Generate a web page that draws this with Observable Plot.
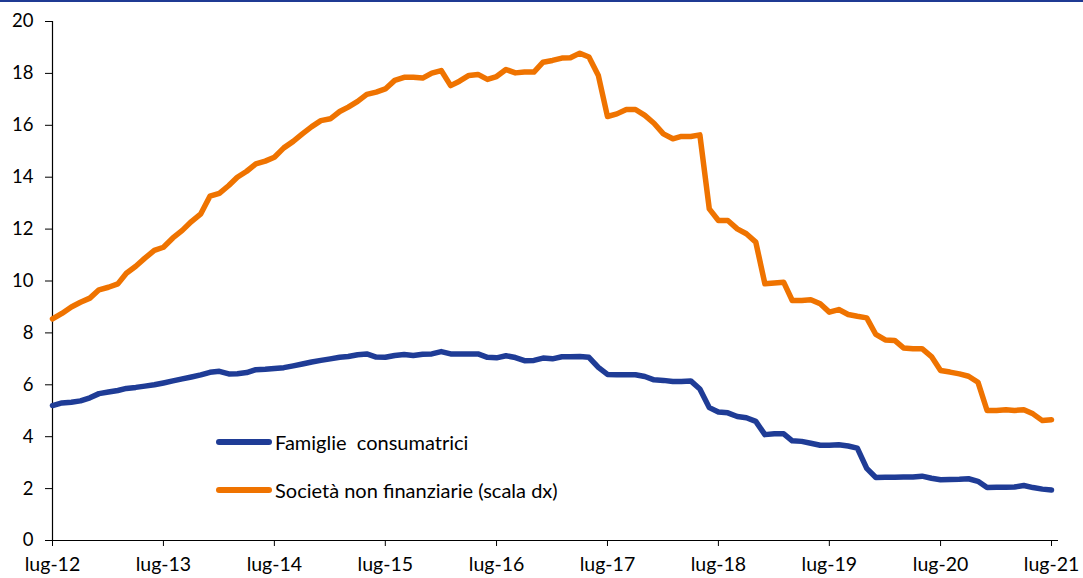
<!DOCTYPE html>
<html>
<head>
<meta charset="utf-8">
<script src="https://cdn.jsdelivr.net/npm/d3@7"></script>
<script src="https://cdn.jsdelivr.net/npm/@observablehq/plot@0.6"></script>
<style>
  body { margin: 0; background: #fff; font-family: Lato, "Open Sans", sans-serif; }
  #wrap { position: relative; width: 1083px; height: 578px; overflow: hidden; background: #fff; }
  #topline { position: absolute; left: 0; top: 0; width: 1083px; height: 2px; background: #1f3a93; }
  .leg { position: absolute; left: 216px; height: 24px; display: flex; align-items: center; font-size: 20px; color: #000; white-space: pre; }
  .sw { display: inline-block; width: 56px; height: 6px; border-radius: 3px; margin-right: 3px; }
</style>
</head>
<body>
<div id="wrap">
  <div id="chart"></div>
  <div id="topline"></div>
  <div id="legend"></div>
</div>
<script>
// Start month of series: July 2012 (monthly data to July 2021)
const startYear = 2012;
const startMonth = 6; // 0-based: July

const seriesNames = ["Famiglie  consumatrici", "Società non finanziarie (scala dx)"];
const seriesColors = ["#1f3c96", "#ef7300"];

const famiglie = [
  5.2, 5.3, 5.33, 5.38, 5.5, 5.66, 5.72, 5.78, 5.86, 5.9, 5.95, 6.0,
  6.07, 6.15, 6.23, 6.3, 6.38, 6.48, 6.52, 6.42, 6.43, 6.47, 6.58, 6.6,
  6.63, 6.66, 6.73, 6.8, 6.88, 6.94, 7.0, 7.06, 7.09, 7.16, 7.19, 7.07,
  7.06, 7.13, 7.17, 7.13, 7.18, 7.19, 7.28, 7.19, 7.19, 7.19, 7.19, 7.06,
  7.04, 7.12, 7.05, 6.93, 6.94, 7.03, 7.0, 7.08, 7.08, 7.09, 7.06, 6.67,
  6.4, 6.39, 6.39, 6.39, 6.32, 6.19, 6.17, 6.13, 6.13, 6.15, 5.84, 5.12,
  4.95, 4.92, 4.78, 4.73, 4.59, 4.08, 4.11, 4.11, 3.84, 3.82, 3.75, 3.67,
  3.67, 3.69, 3.64, 3.56, 2.78, 2.43, 2.44, 2.44, 2.45, 2.45, 2.48, 2.4,
  2.34, 2.35, 2.36, 2.38, 2.28, 2.04, 2.05, 2.05, 2.06, 2.12, 2.04, 1.98,
  1.95
];

const societa = [
  8.54, 8.75, 9.0, 9.18, 9.34, 9.66, 9.76, 9.89, 10.3, 10.57, 10.88, 11.18,
  11.3, 11.66, 11.95, 12.29, 12.59, 13.27, 13.38, 13.68, 14.0, 14.23, 14.51, 14.62,
  14.77, 15.13, 15.38, 15.67, 15.95, 16.18, 16.25, 16.53, 16.7, 16.92, 17.19, 17.28,
  17.4, 17.73, 17.85, 17.85, 17.82, 18.01, 18.11, 17.53, 17.7, 17.92, 17.96, 17.77,
  17.88, 18.15, 18.02, 18.05, 18.05, 18.43, 18.5, 18.59, 18.6, 18.78, 18.63, 17.92,
  16.34, 16.44, 16.61, 16.61, 16.38, 16.08, 15.67, 15.48, 15.57, 15.57, 15.63, 12.78,
  12.33, 12.33, 12.01, 11.82, 11.5, 9.89, 9.92, 9.95, 9.25, 9.25, 9.28, 9.12,
  8.8, 8.9, 8.71, 8.64, 8.58, 7.94, 7.73, 7.71, 7.42, 7.39, 7.39, 7.09,
  6.55, 6.49, 6.42, 6.33, 6.1, 5.01, 5.01, 5.04, 5.01, 5.04, 4.88, 4.62,
  4.65
];

const tickYears = [2012, 2013, 2014, 2015, 2016, 2017, 2018, 2019, 2020, 2021];
const yTicks = [0, 2, 4, 6, 8, 10, 12, 14, 16, 18, 20];

const monthDate = i => new Date(Date.UTC(startYear, startMonth + i, 1));
const rows = [];
famiglie.forEach((v, i) => rows.push({date: monthDate(i), value: v, series: seriesNames[0]}));
societa.forEach((v, i) => rows.push({date: monthDate(i), value: v, series: seriesNames[1]}));

const xTicks = tickYears.map(y => new Date(Date.UTC(y, 6, 1)));
const xStart = new Date(Date.UTC(2012, 6, 1));
const xEnd = new Date(Date.UTC(2021, 6, 24));

const chart = Plot.plot({
  width: 1083,
  height: 578,
  marginLeft: 52,
  marginRight: 25,
  marginTop: 21,
  marginBottom: 38,
  style: {fontFamily: "Lato, 'Open Sans', sans-serif", fontSize: "18px", color: "#000", background: "#fff"},
  x: {type: "utc", domain: [xStart, xEnd]},
  y: {domain: [0, 20]},
  color: {domain: seriesNames, range: seriesColors},
  marks: [
    Plot.axisY({ticks: yTicks, tickSize: 7, tickPadding: 12, stroke: "#000", fontSize: 18.5, label: null}),
    Plot.axisX({ticks: xTicks, tickSize: 6, tickPadding: 11, stroke: "#000", fontSize: 19.5, label: null,
      tickFormat: d => "lug-" + String(d.getUTCFullYear()).slice(2)}),
    Plot.ruleY([0], {x1: xStart, x2: xEnd, stroke: "#000", strokeWidth: 1.2}),
    Plot.ruleX([xStart], {y1: 0, y2: 20, stroke: "#000", strokeWidth: 1.2}),
    Plot.lineY(rows, {x: "date", y: "value", z: "series", stroke: "series",
      strokeWidth: 5.5, strokeLinecap: "round", strokeLinejoin: "round"})
  ]
});
document.getElementById("chart").appendChild(chart);

// Legend (HTML overlay inside the plot area)
const legendTops = [430, 478];
const leg = document.getElementById("legend");
seriesNames.forEach((name, i) => {
  const d = document.createElement("div");
  d.className = "leg";
  d.style.top = legendTops[i] + "px";
  const sw = document.createElement("span");
  sw.className = "sw";
  sw.style.background = seriesColors[i];
  d.appendChild(sw);
  d.appendChild(document.createTextNode(name));
  leg.appendChild(d);
});
</script>
</body>
</html>
